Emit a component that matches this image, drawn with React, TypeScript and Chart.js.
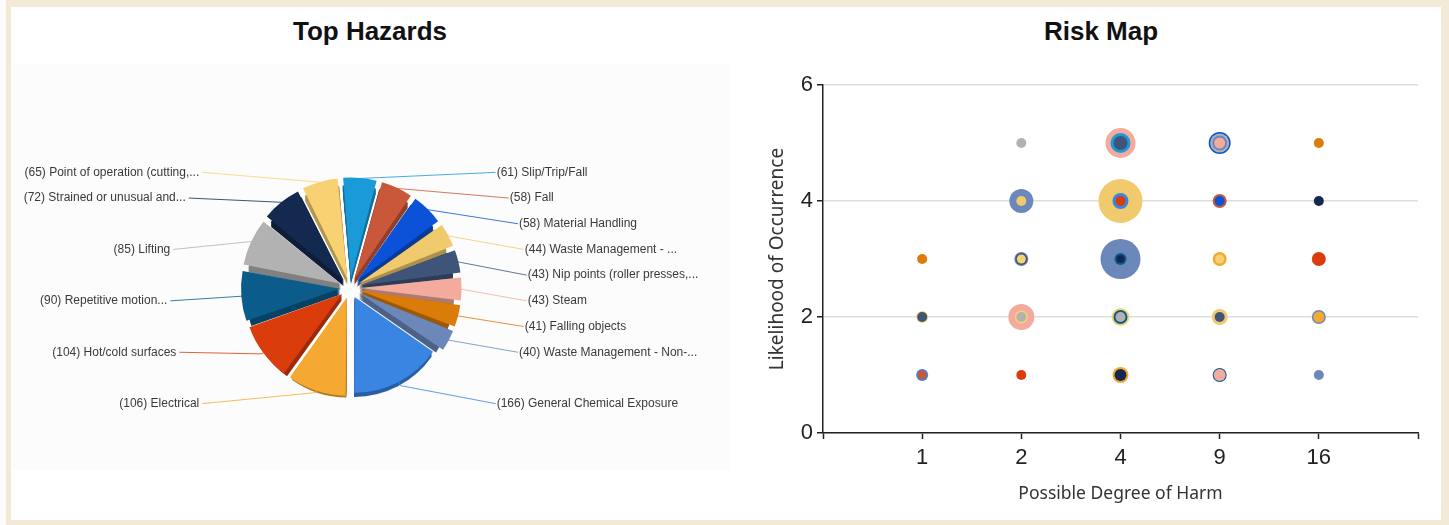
import React, { useEffect, useRef } from 'react';
import { Chart, registerables } from 'chart.js';

Chart.register(...registerables);

// ---- Top Hazards (pie) ----
const hazardNames = [
  'Slip/Trip/Fall',
  'Fall',
  'Material Handling',
  'Waste Management - ...',
  'Nip points (roller presses,...',
  'Steam',
  'Falling objects',
  'Waste Management - Non-...',
  'General Chemical Exposure',
  'Electrical',
  'Hot/cold surfaces',
  'Repetitive motion...',
  'Lifting',
  'Strained or unusual and...',
  'Point of operation (cutting,...',
];
const hazardCounts = [61, 58, 58, 44, 43, 43, 41, 40, 166, 106, 104, 90, 85, 72, 65];
const hazardColors = [
  '#1b9ad8', '#c9583a', '#0b52d8', '#f0ca6c', '#3e5479', '#f2ab9c', '#db7b08', '#6c88ba',
  '#3a84e2', '#f6a932', '#da3c0c', '#0b5b8b', '#b2b2b2', '#13294f', '#f8d272',
];

// ---- Risk Map (bubbles) ----
const harmLevels = [1, 2, 4, 9, 16];
const likelihoodTicks = [0, 2, 4, 6];

// [degree of harm, likelihood, bubble size] per hazard, same order as hazardNames
const riskSlipTripFall = [[4, 5, 10]];
const riskFall = [[1, 1, 4.5], [9, 4, 7]];
const riskMaterialHandling = [[9, 5, 11], [9, 4, 5]];
const riskWasteMgmt = [[2, 4, 5], [4, 4, 22], [9, 2, 8]];
const riskNipPoints = [[1, 2, 5], [2, 3, 6], [4, 5, 7], [9, 2, 5]];
const riskSteam = [[2, 2, 13], [4, 5, 15], [9, 5, 5.5], [9, 1, 6]];
const riskFallingObjects = [[1, 3, 5], [16, 5, 5]];
const riskWasteMgmtNon = [[2, 4, 12], [2, 3, 7], [4, 3, 20], [9, 5, 7.5], [16, 2, 7], [16, 1, 5]];
const riskChemical = [[1, 1, 6], [4, 4, 8]];
const riskElectrical = [[4, 1, 8], [9, 3, 7], [16, 2, 5.5]];
const riskHotCold = [[2, 1, 5], [4, 4, 5], [16, 3, 7]];
const riskRepetitive = [[4, 3, 6], [4, 2, 7], [9, 1, 7]];
const riskLifting = [[2, 5, 5], [2, 2, 5], [4, 2, 5], [9, 5, 9.5]];
const riskStrained = [[4, 3, 4], [4, 1, 6], [16, 4, 5]];
const riskPointOfOperation = [[1, 2, 6], [2, 3, 4.5], [2, 2, 6.5], [4, 2, 9], [9, 3, 4.5]];

const riskSeries = [
  riskSlipTripFall, riskFall, riskMaterialHandling, riskWasteMgmt, riskNipPoints, riskSteam,
  riskFallingObjects, riskWasteMgmtNon, riskChemical, riskElectrical, riskHotCold,
  riskRepetitive, riskLifting, riskStrained, riskPointOfOperation,
];

const EXPLODE = 10; // px each slice is pulled out
const DEPTH = 6; // px of the pie's side wall

function shade(hex: string, f: number) {
  const n = parseInt(hex.slice(1), 16);
  const r = Math.round(((n >> 16) & 255) * f);
  const g = Math.round(((n >> 8) & 255) * f);
  const b = Math.round((n & 255) * f);
  return `rgb(${r},${g},${b})`;
}

// Darker copies of each wedge below the top face give the pie some thickness
const pieDepthPlugin = {
  id: 'pieDepth',
  beforeDatasetsDraw(chart: any) {
    const ctx = chart.ctx;
    const meta = chart.getDatasetMeta(0);
    meta.data.forEach((arc: any, i: number) => {
      const mid = (arc.startAngle + arc.endAngle) / 2;
      const ox = arc.x + Math.cos(mid) * EXPLODE;
      const oy = arc.y + Math.sin(mid) * EXPLODE;
      ctx.save();
      ctx.fillStyle = shade(hazardColors[i], 0.72);
      for (let d = DEPTH; d >= 1; d--) {
        ctx.beginPath();
        ctx.moveTo(ox, oy + d);
        ctx.arc(ox, oy + d, arc.outerRadius, arc.startAngle, arc.endAngle);
        ctx.closePath();
        ctx.fill();
      }
      ctx.restore();
    });
  },
};

// Outside labels in two columns with leader lines back to the slices
const pieLabelPlugin = {
  id: 'pieLabels',
  afterDatasetsDraw(chart: any) {
    const ctx = chart.ctx;
    const arcs = chart.getDatasetMeta(0).data;
    if (!arcs.length) return;
    const cx = arcs[0].x;
    const cy = arcs[0].y;
    const slotGap = 25.7;
    const slots = Array.from({ length: 10 }, (_, k) => (k - 4.5) * slotGap);
    const items = arcs.map((arc: any, i: number) => {
      const mid = (arc.startAngle + arc.endAngle) / 2;
      return {
        i,
        mid,
        R: arc.outerRadius,
        side: Math.cos(mid) >= 0 ? 1 : -1,
        ideal: 5 + 115 * Math.sin(mid),
        dy: 0,
      };
    });
    [1, -1].forEach((side) => {
      const used = new Set<number>();
      items
        .filter((it: any) => it.side === side)
        .sort((a: any, b: any) => a.ideal - b.ideal)
        .forEach((it: any) => {
          let best = -1;
          let bestD = Infinity;
          slots.forEach((s, k) => {
            if (used.has(k)) return;
            const d = Math.abs(s - it.ideal);
            if (d < bestD) { bestD = d; best = k; }
          });
          used.add(best);
          it.dy = slots[best];
        });
    });

    ctx.save();
    ctx.font = '12px "Liberation Sans", Arial, sans-serif';
    ctx.textBaseline = 'middle';
    items.forEach((it: any) => {
      const color = hazardColors[it.i];
      const k = Math.sqrt(Math.max(0, 1 - (it.dy / 204) ** 2));
      const ly = cy + it.dy;
      const lx = it.side > 0 ? cx + 178 * k : cx - 183 * k;
      const ex = Math.cos(it.mid);
      const ey = Math.sin(it.mid);
      const px = cx + ex * (it.R + EXPLODE);
      const py = cy + ey * (it.R + EXPLODE);
      const qx = px + ex * 6;
      const qy = py + ey * 6;
      ctx.strokeStyle = color;
      ctx.globalAlpha = 0.8;
      ctx.lineWidth = 1;
      ctx.beginPath();
      ctx.moveTo(px, py);
      ctx.lineTo(qx, qy);
      ctx.lineTo(it.side > 0 ? lx - 1 : lx + 3, ly);
      ctx.stroke();
      ctx.globalAlpha = 1;
      ctx.fillStyle = '#3a3a3a';
      ctx.textAlign = it.side > 0 ? 'left' : 'right';
      ctx.fillText(`(${hazardCounts[it.i]}) ${hazardNames[it.i]}`, lx, ly);
    });
    ctx.restore();
  },
};

function harmTick(v: number) {
  const idx = Math.round(v) - 1;
  return idx >= 0 && idx < harmLevels.length ? String(harmLevels[idx]) : '';
}

export default function App() {
  const pieRef = useRef<HTMLCanvasElement>(null);
  const bubbleRef = useRef<HTMLCanvasElement>(null);

  useEffect(() => {
    const pie = new Chart(pieRef.current!, {
      type: 'pie',
      data: {
        labels: hazardNames,
        datasets: [{
          data: hazardCounts,
          backgroundColor: hazardColors,
          borderWidth: 0,
          offset: EXPLODE * 4,
        }],
      },
      options: {
        animation: false,
        responsive: false,
        events: [],
        rotation: -5,
        radius: 94,
        layout: { padding: 0 },
        plugins: { legend: { display: false }, tooltip: { enabled: false } },
      } as any,
      plugins: [pieDepthPlugin, pieLabelPlugin],
    });

    const bubblePoints = riskSeries
      .flatMap((series, h) =>
        series.map(([harm, like, size]) => ({
          x: harmLevels.indexOf(harm) + 1,
          y: like,
          r: size,
          color: hazardColors[h],
        })))
      .sort((a, b) => b.r - a.r);

    const tickFont = { family: '"Liberation Sans", Arial, sans-serif', size: 22 };

    const bubble = new Chart(bubbleRef.current!, {
      type: 'bubble',
      data: {
        datasets: [{
          data: bubblePoints as any,
          backgroundColor: (c: any) => (c.raw ? c.raw.color : '#999'),
          borderWidth: 0,
        }],
      },
      options: {
        animation: false,
        responsive: false,
        events: [],
        layout: { padding: { top: 25, right: 22, left: 0, bottom: 0 } },
        plugins: { legend: { display: false }, tooltip: { enabled: false } },
        scales: {
          x: {
            type: 'linear',
            min: 0,
            max: harmLevels.length + 1,
            afterFit: (s: any) => { s.height = 87; },
            ticks: {
              stepSize: 1,
              autoSkip: false,
              callback: (v: any) => harmTick(Number(v)),
              font: tickFont,
              color: '#222',
              padding: 6,
              maxRotation: 0,
            },
            grid: { drawOnChartArea: false, drawTicks: true, tickLength: 6, tickColor: '#222', tickWidth: 1.5 },
            border: { color: '#222', width: 1.5 },
            title: {
              display: true,
              text: 'Possible Degree of Harm',
              font: { family: '"Noto Sans", sans-serif', size: 17.5 },
              color: '#333',
              padding: { top: 0, bottom: 15.5 },
            },
          },
          y: {
            type: 'linear',
            min: likelihoodTicks[0],
            max: likelihoodTicks[likelihoodTicks.length - 1],
            afterFit: (s: any) => { s.width = 83; },
            afterBuildTicks: (s: any) => { s.ticks = likelihoodTicks.map((v) => ({ value: v })); },
            ticks: { font: tickFont, color: '#222', padding: 4 },
            grid: { color: '#dedede', lineWidth: 1.5, tickColor: '#222', tickLength: 6, tickWidth: 1.5 },
            border: { color: '#222', width: 1.5 },
            title: {
              display: true,
              text: 'Likelihood of Occurrence',
              font: { family: '"Noto Sans", sans-serif', size: 19 },
              color: '#333',
              padding: { top: 26.6, bottom: 0 },
            },
          },
        },
      } as any,
    });

    return () => {
      pie.destroy();
      bubble.destroy();
    };
  }, []);

  const titleStyle: React.CSSProperties = {
    position: 'absolute',
    top: 16,
    width: 400,
    textAlign: 'center',
    font: 'bold 26px "Liberation Sans", Arial, sans-serif',
    color: '#111',
  };

  return (
    <div style={{ position: 'absolute', left: 0, top: 0, width: 1449, height: 525, background: '#fdfcfa', overflow: 'hidden' }}>
      <div style={{ position: 'absolute', left: 6, top: 0, width: 1443, height: 525, background: '#f4e9d6' }} />
      <div style={{ position: 'absolute', left: 11, top: 7, width: 1430, height: 513, background: '#ffffff' }} />
      <div style={{ position: 'absolute', left: 12, top: 64, width: 718, height: 406, background: '#fcfcfc' }} />
      <div style={{ ...titleStyle, left: 170 }}>Top Hazards</div>
      <div style={{ ...titleStyle, left: 901 }}>Risk Map</div>
      <canvas
        ref={pieRef}
        width={700}
        height={424}
        style={{ position: 'absolute', left: 0, top: 76, width: 700, height: 424 }}
      />
      <canvas
        ref={bubbleRef}
        width={700}
        height={460}
        style={{ position: 'absolute', left: 740, top: 60, width: 700, height: 460 }}
      />
    </div>
  );
}
